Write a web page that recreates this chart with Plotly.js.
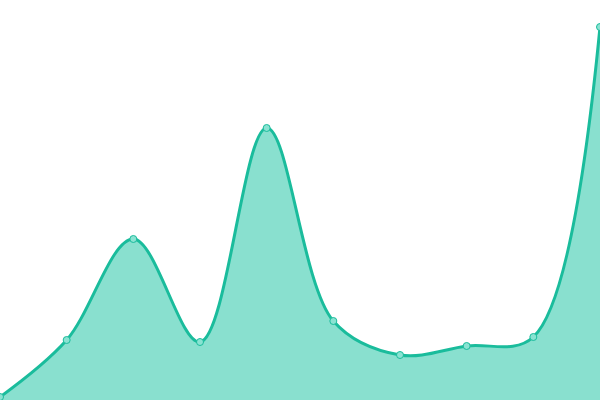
<!DOCTYPE html>
<html>
<head>
<meta charset="utf-8">
<script src="https://cdn.plot.ly/plotly-3.0.1.min.js"></script>
<style>
  html, body { margin: 0; padding: 0; background: #fff; }
  #plot { width: 600px; height: 400px; }
</style>
</head>
<body>
<div id="plot"></div>
<script>
const xValues = [0, 1, 2, 3, 4, 5, 6, 7, 8, 9]
const yValues = [0.75, 15, 40.25, 14.5, 68, 19.75, 11.25, 13.5, 15.75, 93.25]

const trace = {
    x: xValues,
    y: yValues,
    type: 'scatter',
    mode: 'lines+markers',
    fill: 'tozeroy',
    fillcolor: '#89e0cf',
    line: { color: '#1abc9c', width: 3, shape: 'spline', smoothing: 1 },
    marker: {
        color: '#8ae3d2',
        size: 7,
        line: { color: '#1abc9c', width: 1 }
    },
    hoverinfo: 'none'
}

const layout = {
    width: 600,
    height: 400,
    margin: { l: 0, r: 0, t: 0, b: 0 },
    paper_bgcolor: '#fff',
    plot_bgcolor: '#fff',
    showlegend: false,
    xaxis: { range: [0, 9], visible: false, fixedrange: true },
    yaxis: { range: [0, 100], visible: false, fixedrange: true }
}

Plotly.newPlot('plot', [trace], layout, { displayModeBar: false, staticPlot: true })
</script>
</body>
</html>
